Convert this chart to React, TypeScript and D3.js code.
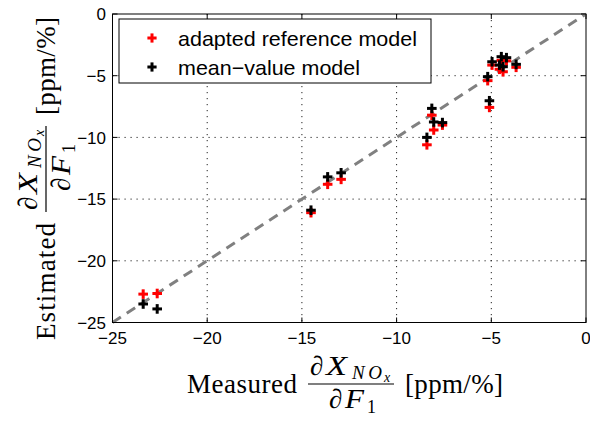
import React from "react";
import * as d3 from "d3";

const measured = [-23.38, -22.64, -14.52, -13.64, -12.93, -8.4, -8.14, -8.04, -7.58, -5.19, -5.1, -4.96, -4.57, -4.47, -4.38, -4.2, -3.69];
const adaptedModel = [-22.7, -22.65, -16.1, -13.8, -13.4, -10.6, -8.2, -9.4, -9.0, -5.4, -7.57, -4.14, -4.48, -3.75, -4.68, -3.8, -4.32];
const meanValueModel = [-23.5, -23.9, -15.9, -13.2, -12.87, -10.0, -7.65, -8.75, -8.8, -5.08, -7.03, -3.87, -4.14, -3.46, -4.27, -3.54, -4.08];
const xTicks = [-25, -20, -15, -10, -5, 0];
const yTicks = [-25, -20, -15, -10, -5, 0];
const seriesNames = ["adapted reference model", "mean\u2212value model"];
const seriesColors = ["#ff0000", "#000000"];

const W = 590, H = 422;
const L = 112.5, R = 586, T = 14, B = 322.5;

const fmt = (v: number) => (v < 0 ? "\u2212" + Math.abs(v) : String(v));

function Plus({ x, y, color, s = 4.8, w = 3 }: { x: number; y: number; color: string; s?: number; w?: number }) {
  return (
    <g stroke={color} strokeWidth={w}>
      <line x1={x - s} x2={x + s} y1={y} y2={y} />
      <line x1={x} x2={x} y1={y - s} y2={y + s} />
    </g>
  );
}

function MathLabel({ word, wordLen }: { word: string; wordLen: number }) {
  const serif = "'Liberation Serif', 'Times New Roman', serif";
  const fx = wordLen + 11;
  return (
    <g fontFamily={serif} fill="#000">
      <text x={0} y={0} fontSize={27} textLength={wordLen} lengthAdjust="spacing">{word}</text>
      {/* numerator */}
      <text x={fx + 2} y={-18} fontSize={27}>∂</text>
      <text x={fx + 18} y={-18} fontSize={27} fontStyle="italic" textLength={21} lengthAdjust="spacingAndGlyphs">X</text>
      <text x={fx + 44} y={-14} fontSize={19} fontStyle="italic" textLength={30} lengthAdjust="spacing">NO</text>
      <text x={fx + 76} y={-11} fontSize={14} fontStyle="italic">x</text>
      {/* bar */}
      <line x1={fx} x2={fx + 86} y1={-9} y2={-9} stroke="#000" strokeWidth={1.2} />
      {/* denominator */}
      <text x={fx + 21} y={15} fontSize={27}>∂</text>
      <text x={fx + 37} y={15} fontSize={27} fontStyle="italic" textLength={19} lengthAdjust="spacingAndGlyphs">F</text>
      <text x={fx + 59} y={20} fontSize={18}>1</text>
      <text x={fx + 97} y={0} fontSize={27} textLength={98} lengthAdjust="spacing">[ppm/%]</text>
    </g>
  );
}

export default function App() {
  const x = d3.scaleLinear().domain([-25, 0]).range([L, R]);
  const y = d3.scaleLinear().domain([-25, 0]).range([B, T]);
  const sans = "'Liberation Sans', Arial, sans-serif";
  const grid = [-20, -15, -10, -5];
  const diag = d3.line<number>().x((d) => x(d)).y((d) => y(d));

  return (
    <svg width={W} height={H} style={{ position: "absolute", left: 0, top: 0, background: "#fff" }}>
      <rect x={0} y={0} width={W} height={H} fill="#fff" />
      {/* grid */}
      <g stroke="#222" strokeWidth={1} strokeDasharray="1.2,4.8">
        {grid.map((v) => (
          <line key={"gx" + v} x1={x(v)} x2={x(v)} y1={T} y2={B} />
        ))}
        {grid.map((v) => (
          <line key={"gy" + v} x1={L} x2={R} y1={y(v)} y2={y(v)} />
        ))}
      </g>
      {/* ticks */}
      <g stroke="#000" strokeWidth={1}>
        {xTicks.map((v) => (
          <g key={"tx" + v}>
            <line x1={x(v)} x2={x(v)} y1={B} y2={B - 5} />
            <line x1={x(v)} x2={x(v)} y1={T} y2={T + 5} />
          </g>
        ))}
        {yTicks.map((v) => (
          <g key={"ty" + v}>
            <line x1={L} x2={L + 5} y1={y(v)} y2={y(v)} />
            <line x1={R} x2={R - 5} y1={y(v)} y2={y(v)} />
          </g>
        ))}
      </g>
      {/* identity line */}
      <path d={diag([-25, 0]) || ""} stroke="#808080" strokeWidth={3} strokeDasharray="10,7" fill="none" />
      {/* markers */}
      {measured.map((m, i) => (
        <Plus key={"a" + i} x={x(m)} y={y(adaptedModel[i])} color={seriesColors[0]} />
      ))}
      {measured.map((m, i) => (
        <Plus key={"b" + i} x={x(m)} y={y(meanValueModel[i])} color={seriesColors[1]} />
      ))}
      {/* frame */}
      <rect x={L} y={T} width={R - L} height={B - T} fill="none" stroke="#000" strokeWidth={1} />
      {/* tick labels */}
      <g fontFamily={sans} fontSize={17} fill="#000">
        {xTicks.map((v) => (
          <text key={"lx" + v} x={x(v)} y={344} textAnchor="middle">{fmt(v)}</text>
        ))}
        {yTicks.map((v) => (
          <text key={"ly" + v} x={106} y={y(v)} dy="0.36em" textAnchor="end">{fmt(v)}</text>
        ))}
      </g>
      {/* legend */}
      <g>
        <rect x={119} y={19} width={312} height={64} fill="#fff" stroke="#000" strokeWidth={1} />
        {seriesNames.map((name, i) => (
          <g key={name}>
            <Plus x={152} y={38 + i * 29} color={seriesColors[i]} s={4.6} w={3} />
            <text x={178} y={38 + i * 29} dy="0.36em" fontFamily={sans} fontSize={21} textLength={i === 0 ? 239 : 182} lengthAdjust="spacingAndGlyphs">{name}</text>
          </g>
        ))}
      </g>
      {/* axis labels */}
      <g transform="translate(187,393)">
        <MathLabel word="Measured" wordLen={110} />
      </g>
      <g transform="translate(55,340) rotate(-90)">
        <MathLabel word="Estimated" wordLen={117} />
      </g>
    </svg>
  );
}
